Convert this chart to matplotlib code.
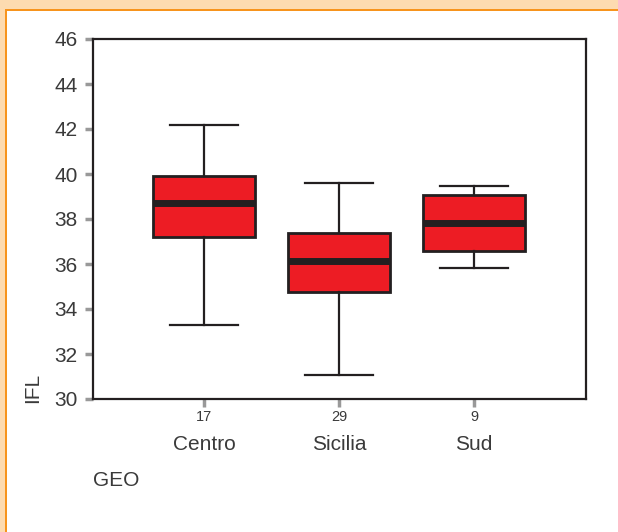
import matplotlib
matplotlib.use("Agg")
import matplotlib.pyplot as plt
import matplotlib.transforms as mtransforms
from matplotlib.patches import Rectangle

plt.rcParams['font.family'] = ['Liberation Sans', 'DejaVu Sans']

categories = ["Centro", "Sicilia", "Sud"]
counts = ["17", "29", "9"]
whisker_low = [33.27, 31.07, 35.81]
q1 = [37.21, 34.74, 36.58]
median = [38.70, 36.15, 37.81]
q3 = [39.93, 37.38, 39.07]
whisker_high = [42.19, 39.61, 39.47]
yticks = [30, 32, 34, 36, 38, 40, 42, 44, 46]

W, H = 618, 532
fig = plt.figure(figsize=(W / 100, H / 100), dpi=100)
fig.patch.set_facecolor("white")

# decorative border (peach band + orange line) top and left
fig.patches.append(Rectangle((0, 1 - 9 / H), 1, 9 / H, transform=fig.transFigure,
                             facecolor="#FDDBB0", edgecolor="none", zorder=0))
fig.patches.append(Rectangle((0, 0), 4.5 / W, 1, transform=fig.transFigure,
                             facecolor="#FDDBB0", edgecolor="none", zorder=0))
fig.patches.append(Rectangle((4.5 / W, 0), 2.2 / W, 1 - 9 / H, transform=fig.transFigure,
                             facecolor="#F7941D", edgecolor="none", zorder=1))
fig.patches.append(Rectangle((4.5 / W, 1 - 11.2 / H), 1, 2.2 / H, transform=fig.transFigure,
                             facecolor="#F7941D", edgecolor="none", zorder=1))

ax = fig.add_axes([93 / W, 1 - 399 / H, (586 - 93) / W, (399 - 39) / H])
ax.set_facecolor("white")

positions = list(range(1, len(categories) + 1))
stats = []
for i, c in enumerate(categories):
    stats.append(dict(label=c, whislo=whisker_low[i], q1=q1[i], med=median[i],
                      q3=q3[i], whishi=whisker_high[i], fliers=[]))

ax.bxp(stats, positions=positions, widths=0.75, patch_artist=True, showfliers=False,
       boxprops=dict(facecolor="#ED1C24", edgecolor="#231F20", linewidth=2.0),
       medianprops=dict(color="#231F20", linewidth=5.0, solid_capstyle="butt"),
       whiskerprops=dict(color="#231F20", linewidth=1.6),
       capprops=dict(color="#231F20", linewidth=1.6),
       capwidths=0.5)

txt = "#3a3a3a"
ax.set_xlim(0.178, 3.83)
ax.set_ylim(30, 46)
ax.set_yticks(yticks)
ax.set_yticklabels([str(t) for t in yticks], fontsize=15, color=txt)
ax.set_xticks(positions)
ax.set_xticklabels(counts, fontsize=10.5, color=txt)
ax.tick_params(axis="both", direction="out", color="#999999", width=2.5, length=6, pad=2)
ax.tick_params(axis="y", pad=5)
for s in ax.spines.values():
    s.set_color("#231F20")
    s.set_linewidth(1.6)

trans = mtransforms.blended_transform_factory(ax.transData, fig.transFigure)
for p, c in zip(positions, categories):
    ax.text(p, 1 - 444 / H, c, transform=trans, ha="center", va="center",
            fontsize=15, color=txt)

fig.text(33 / W, 1 - 388 / H, "IFL", rotation=90, ha="center", va="center",
         fontsize=15, color=txt)
fig.text(93 / W, 1 - 480 / H, "GEO", ha="left", va="center",
         fontsize=15, color=txt)

fig.savefig("out.png", dpi=100, facecolor=fig.get_facecolor())
